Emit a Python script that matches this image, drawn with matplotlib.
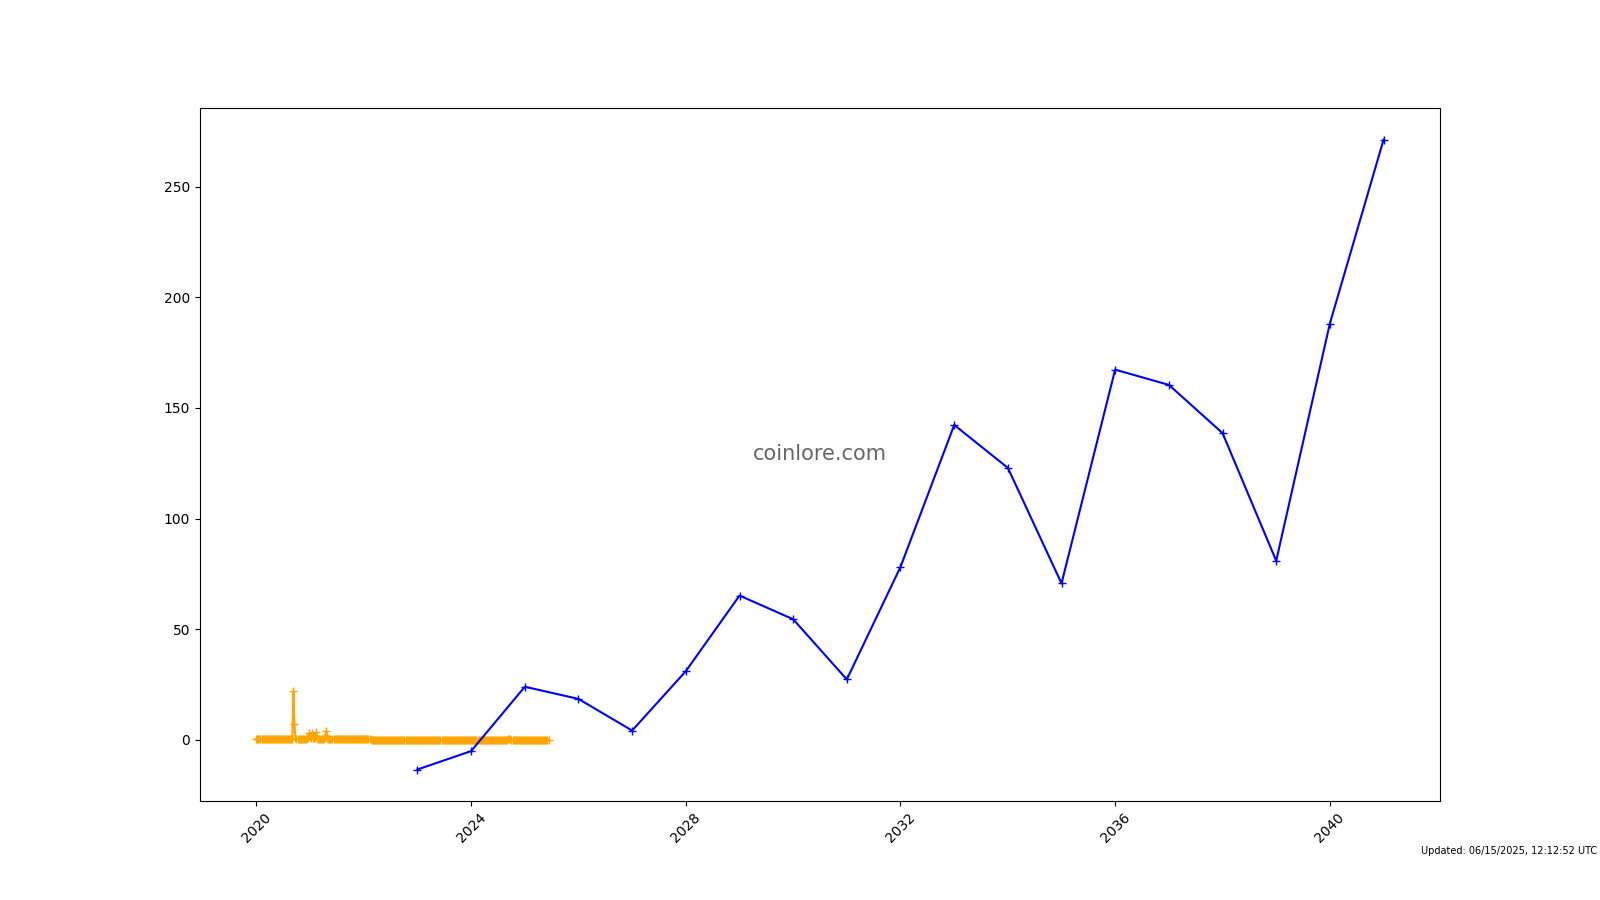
import pandas as pd
import matplotlib
matplotlib.use("Agg")
import matplotlib.pyplot as plt
import matplotlib.dates as mdates

# historical price (weekly samples from 2020-01-01)
hist_start = "2020-01-01"
hist_values = [
    0.3, 0.3, 0.3, 0.3, 0.2, 0.2, 0.2, 0.3, 0.3, 0.3,
    0.3, 0.2, 0.2, 0.2, 0.2, 0.3, 0.3, 0.3, 0.3, 0.3,
    0.2, 0.3, 0.3, 0.3, 0.3, 0.3, 0.4, 0.3, 0.3, 0.3,
    0.4, 0.5, 0.5, 0.5, 0.6, 0.6, 22.0, 7.0, 0.8, 0.5,
    0.4, 0.4, 0.4, 0.4, 0.5, 0.5, 0.5, 0.6, 0.6, 0.8,
    1.0, 3.0, 1.2, 0.8, 3.2, 1.0, 0.8, 0.9, 3.4, 0.9,
    0.6, 0.6, 0.5, 0.6, 0.6, 0.6, 0.7, 0.8, 4.0, 0.7,
    0.6, 0.5, 0.5, 0.4, 0.4, 0.4, 0.4, 0.3, 0.3, 0.3,
    0.3, 0.3, 0.3, 0.3, 0.3, 0.3, 0.3, 0.3, 0.3, 0.3,
    0.3, 0.3, 0.2, 0.2, 0.3, 0.3, 0.2, 0.2, 0.2, 0.2,
    0.2, 0.2, 0.2, 0.2, 0.2, 0.2, 0.2, 0.2, 0.2, 0.2,
    0.2, 0.2, 0.1, 0.1, 0.1, 0.1, 0.1, 0.1, 0.1, 0.1,
    0.1, 0.1, 0.1, 0.1, 0.1, 0.1, 0.1, 0.1, 0.1, 0.1,
    0.1, 0.1, 0.1, 0.1, 0.1, 0.1, 0.1, 0.1, 0.1, 0.1,
    0.1, 0.1, 0.1, 0.1, 0.1, 0.1, 0.1, 0.1, 0.1, 0.1,
    0.1, 0.1, 0.1, 0.1, 0.1, 0.1, 0.1, 0.1, 0.1, 0.1,
    0.1, 0.1, 0.1, 0.1, 0.1, 0.1, 0.1, 0.1, 0.1, 0.1,
    0.1, 0.1, 0.1, 0.1, 0.1, 0.1, 0.1, 0.1, 0.1, 0.1,
    0.1, 0.1, 0.1, 0.1, 0.1, 0.1, 0.1, 0.1, 0.1, 0.1,
    0.1, 0.1, 0.1, 0.1, 0.1, 0.1, 0.1, 0.1, 0.1, 0.1,
    0.1, 0.1, 0.1, 0.1, 0.1, 0.1, 0.1, 0.1, 0.1, 0.1,
    0.1, 0.1, 0.1, 0.1, 0.1, 0.1, 0.1, 0.1, 0.1, 0.1,
    0.1, 0.1, 0.1, 0.1, 0.1, 0.1, 0.1, 0.1, 0.1, 0.1,
    0.1, 0.1, 0.1, 0.1, 0.1, 0.1, 0.1, 0.1, 0.1, 0.1,
    0.1, 0.1, 0.1, 0.1, 0.1, 0.2, 0.2, 0.2, 0.1, 0.1,
    0.1, 0.1, 0.1, 0.1, 0.1, 0.1, 0.1, 0.1, 0.1, 0.1,
    0.1, 0.1, 0.1, 0.1, 0.1, 0.1, 0.1, 0.1, 0.1, 0.1,
    0.1, 0.1, 0.1, 0.1, 0.1, 0.1, 0.1, 0.1, 0.1, 0.1,
    0.1, 0.1, 0.1, 0.1, 0.1,
]

# yearly forecast
forecast_years = [2023, 2024, 2025, 2026, 2027, 2028, 2029, 2030, 2031, 2032,
                  2033, 2034, 2035, 2036, 2037, 2038, 2039, 2040, 2041]
forecast_values = [-13.4, -5.1, 24.0, 18.5, 4.2, 31.0, 65.2, 54.5, 27.3, 78.1,
                   142.3, 122.9, 70.7, 167.3, 160.4, 138.6, 80.9, 188.1, 271.3]

hist_dates = pd.date_range(hist_start, periods=len(hist_values), freq="7D")
forecast_dates = pd.to_datetime([f"{y}-01-01" for y in forecast_years])

fig, ax = plt.subplots(figsize=(16, 9), dpi=100)
fig.subplots_adjust(left=0.125, right=0.9, top=0.88, bottom=0.11)

ax.plot(hist_dates, hist_values, color="orange", marker="+")
ax.plot(forecast_dates, forecast_values, color="blue", marker="+")

ax.xaxis.set_major_locator(mdates.YearLocator(4))
ax.xaxis.set_major_formatter(mdates.DateFormatter("%Y"))
plt.setp(ax.get_xticklabels(), rotation=45)

ax.text(0.5, 0.5, "coinlore.com", transform=ax.transAxes, fontsize=15,
        color="#555555", alpha=0.9, ha="center", va="center")
fig.text(0.998, 0.054, "Updated: 06/15/2025, 12:12:52 UTC", fontsize=7,
         ha="right", va="center")

fig.savefig("out.png", dpi=100)
